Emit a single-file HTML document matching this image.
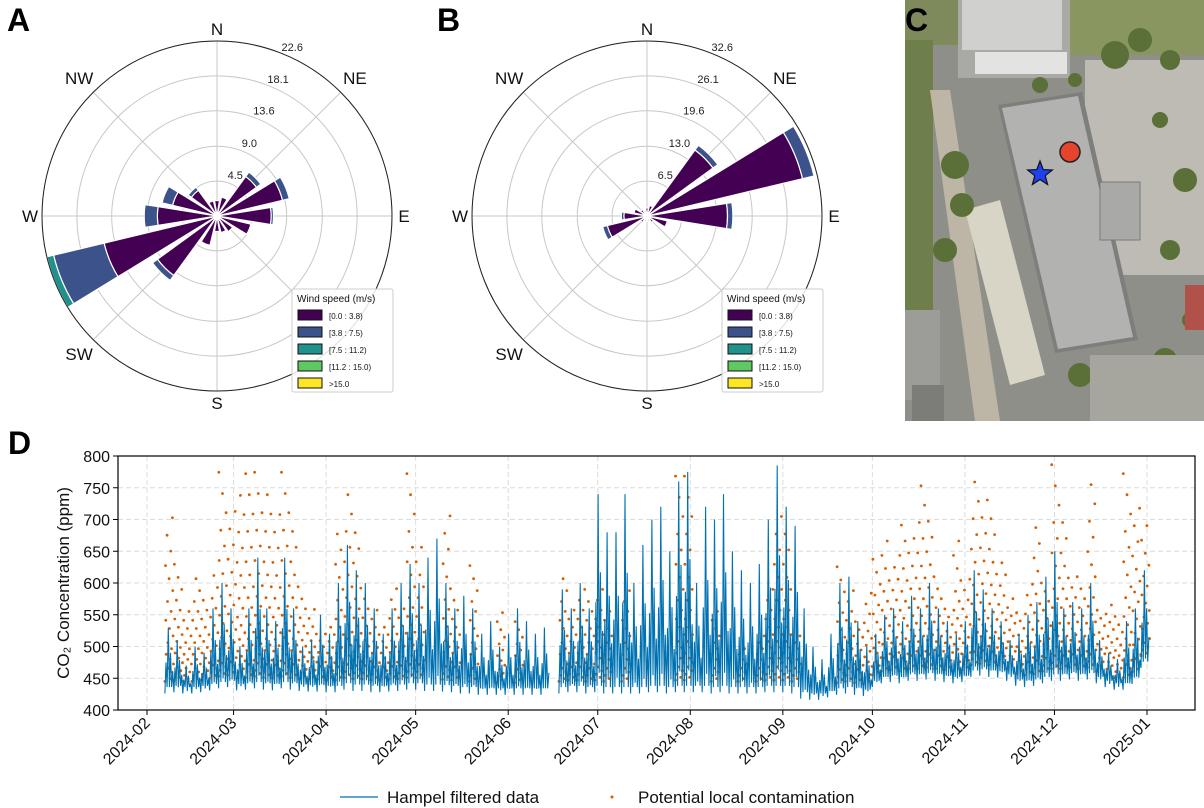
<!DOCTYPE html>
<html><head><meta charset="utf-8"><style>
body{margin:0;background:#fff;}
svg{display:block;font-family:"Liberation Sans",sans-serif;}
</style></head><body>
<svg id="fig" width="1204" height="808" viewBox="0 0 1204 808" xmlns="http://www.w3.org/2000/svg">
<g id="roseA"></g>
<g id="roseB"></g>
<g id="panelC">
  <rect x="905" y="0" width="299" height="421" fill="#8e8f88"/>
  <rect x="905" y="0" width="60" height="45" fill="#7f8a5c"/>
  <rect x="1070" y="0" width="134" height="55" fill="#8a9660"/>
  <rect x="958" y="0" width="112" height="78" fill="#a9a9a6"/>
  <rect x="962" y="0" width="100" height="50" fill="#d0d0ce"/>
  <rect x="975" y="52" width="92" height="22" fill="#e3e3e1"/>
  <rect x="905" y="40" width="28" height="270" fill="#6f7f4c"/>
  <polygon points="930,90 950,90 1000,421 975,421" fill="#bdb6a6"/>
  <rect x="1085" y="60" width="119" height="215" fill="#bdbbb3"/>
  <polygon points="965,210 1000,200 1045,375 1010,385" fill="#d8d4c6"/>
  <polygon points="998,105 1082,92 1138,340 1055,353" fill="#7e7f7d"/>
  <polygon points="1002,108 1078,96 1133,337 1058,349" fill="#b2b2b0"/>
  <rect x="1100" y="182" width="40" height="58" fill="#a9a9a7" stroke="#7a7a78"/>
  <g fill="#5a7038">
    <circle cx="955" cy="165" r="14"/><circle cx="962" cy="205" r="12"/><circle cx="945" cy="250" r="12"/>
    <circle cx="1115" cy="55" r="14"/><circle cx="1140" cy="40" r="12"/><circle cx="1170" cy="60" r="10"/>
    <circle cx="1160" cy="120" r="8"/><circle cx="1185" cy="180" r="12"/><circle cx="1170" cy="250" r="10"/>
    <circle cx="1080" cy="375" r="12"/><circle cx="1120" cy="395" r="14"/><circle cx="1165" cy="360" r="12"/>
    <circle cx="1040" cy="85" r="8"/><circle cx="1075" cy="80" r="7"/><circle cx="1190" cy="320" r="8"/>
  </g>
  <rect x="1185" y="285" width="19" height="45" fill="#b0524a"/>
  <rect x="905" y="310" width="35" height="90" fill="#9c9c98"/>
  <rect x="912" y="385" width="32" height="36" fill="#7c7c78"/>
  <rect x="1090" y="355" width="114" height="66" fill="#a6a59e"/>
  <circle cx="1070" cy="152" r="10" fill="#e8432c" stroke="#222" stroke-width="1.5"/>
  <polygon id="star" fill="#1f3ff0" stroke="#111" stroke-width="1.2"/>
</g>
<g id="panelD"></g>
<g font-weight="bold" font-size="32" fill="#000">
  <text x="7" y="31">A</text>
  <text x="437" y="31">B</text>
  <text x="905" y="31">C</text>
  <text x="8" y="454">D</text>
</g>
</svg>
<script>
// ---- wind rose data (16 directions, N clockwise) ----
const dirLabels = ["N","NE","E","SE","S","SW","W","NW"];
const speedBins = ["[0.0 : 3.8)","[3.8 : 7.5)","[7.5 : 11.2)","[11.2 : 15.0)",">15.0"];
const roseA_low = [2,2.5,6.3,8.7,7.0,4.5,2.5,2.2,2,3.9,9.5,15,7.7,5.9,4.1,2];
const roseA_mid = [0,0,0.7,0.9,0.3,0,0,0,0,0,0.8,6.7,1.7,1.4,0.5,0];
const roseA_high = [0,0,0,0,0,0,0,0,0,0,0,0.9,0,0,0,0];
const roseA_ticks = ["4.5","9.0","13.6","18.1","22.6"];
const roseB_low = [1.5,2,15.2,29.8,15,3.9,1.5,1,1,1,1.5,7.6,4.3,2.5,1.5,1];
const roseB_mid = [0,0,1.1,2.2,1.0,0,0,0,0,0,0,0.9,0.5,0,0,0];
const roseB_high = [0,0,0,0,0,0,0,0,0,0,0,0,0,0,0,0];
const roseB_ticks = ["6.5","13.0","19.6","26.1","32.6"];
const colors = ["#440154","#3b528b","#21918c","#5ec962","#fde725"];

// ---- CO2 time series data: 3-day bins starting 2024-02-07 ----
const binDays = 3, firstDay = 6;
const hampelPeak = [530,510,470,500,490,560,600,560,500,560,640,560,540,640,560,500,510,550,520,600,660,620,600,560,520,560,600,630,600,640,670,600,560,580,560,520,540,500,520,560,540,520,530,null,590,560,600,560,740,680,680,740,600,660,700,720,650,760,775,600,720,700,740,650,620,600,630,700,785,720,690,560,500,480,520,600,610,540,500,520,550,560,540,580,560,600,560,540,520,540,620,590,560,540,510,520,550,570,610,650,560,570,560,600,510,490,480,540,560,620];
const hampelBase = [430,432,430,430,432,435,438,440,435,436,438,436,435,438,436,434,433,433,432,432,436,434,434,432,432,433,434,436,436,434,434,433,432,430,430,428,428,428,428,428,428,428,428,null,430,432,432,430,432,430,430,430,430,430,432,432,430,432,432,432,432,430,432,430,430,430,430,432,432,432,430,422,420,420,424,428,430,428,426,440,446,448,446,450,450,452,450,448,446,448,456,458,456,455,450,442,440,442,446,450,450,452,450,452,446,440,436,436,445,470];
const orangeMax = [720,640,560,620,580,620,790,720,770,800,795,740,720,800,700,580,560,520,540,700,760,680,580,560,540,600,560,790,680,0,0,720,580,0,640,0,0,560,0,540,0,0,0,0,620,560,600,580,600,560,0,600,0,0,0,0,0,780,800,0,0,560,0,0,500,0,520,600,720,700,520,0,0,0,0,640,600,540,600,660,690,640,700,680,780,700,600,560,690,620,790,760,720,640,590,560,600,700,600,800,720,620,600,770,560,580,560,790,720,700];
const yTicks = [400,450,500,550,600,650,700,750,800];
const xTickLabels = ["2024-02","2024-03","2024-04","2024-05","2024-06","2024-07","2024-08","2024-09","2024-10","2024-11","2024-12","2025-01"];
const xTickDays = [0,29,60,90,121,151,182,213,243,274,304,335];

const NS="http://www.w3.org/2000/svg";
function mk(tag, attrs, parent){const e=document.createElementNS(NS,tag);for(const k in attrs)e.setAttribute(k,attrs[k]);parent.appendChild(e);return e;}

function drawRose(g, cx, cy, low, mid, high, ticks){
  const R=175, vmax=parseFloat(ticks[ticks.length-1]);
  const rs=v=>v/vmax*R;
  const pt=(r,a)=>[cx+r*Math.sin(a*Math.PI/180), cy-r*Math.cos(a*Math.PI/180)];
  ticks.forEach(t=>{const c=mk('circle',{cx:cx,cy:cy,r:rs(parseFloat(t)),fill:'none',stroke:'#c8c8c8','stroke-width':1},g);
    
    });
  for(let i=0;i<8;i++){const p=pt(R,i*45);const l=mk('line',{x1:cx,y1:cy,x2:p[0],y2:p[1],stroke:'#c8c8c8','stroke-width':1},g);
    
    }
  const series=[low,mid,high];
  for(let d=0;d<16;d++){
    let r0=0; const a=d*22.5;
    series.forEach((s,si)=>{
      const v=s[d]; if(!v) return;
      const r1=r0+v;
      const a0=a-9,a1=a+9;
      const p1=pt(rs(r0),a0),p2=pt(rs(r1),a0),p3=pt(rs(r1),a1),p4=pt(rs(r0),a1);
      const path=mk('path',{d:`M${p1} L${p2} A${rs(r1)} ${rs(r1)} 0 0 1 ${p3} L${p4} A${rs(r0)} ${rs(r0)} 0 0 0 ${p1}Z`,fill:colors[si],stroke:'#fff','stroke-width':1.2},g);
      
      
      r0=r1;
    });
  }
  mk('circle',{cx:cx,cy:cy,r:R,fill:'none',stroke:'#222','stroke-width':1},g);
  ticks.forEach(t=>{const p=pt(rs(parseFloat(t))+10,24);const tx=mk('text',{x:p[0],y:p[1]+4,'font-size':11,'text-anchor':'middle',fill:'#222'},g);tx.textContent=t;
    
    });
  dirLabels.forEach((lab,i)=>{const p=pt(R+(i%2?20:12),i*45);const tx=mk('text',{x:p[0],y:p[1]+6,'font-size':17,'text-anchor':'middle',fill:lab==='SE'?'#bbb':'#111'},g);tx.textContent=lab;
    
    });
  const lx=cx+75, ly=cy+73;
  const lg=mk('g',{},g);
  
  
  mk('rect',{x:lx,y:ly,width:101,height:103,fill:'#fff','fill-opacity':0.85,stroke:'#ccc',rx:2},lg);
  const tt=mk('text',{x:lx+5,y:ly+13,'font-size':10,fill:'#111'},lg);tt.textContent='Wind speed (m/s)';
  speedBins.forEach((b,i)=>{
    const yy=ly+21+i*17;
    mk('rect',{x:lx+6,y:yy,width:24,height:10,fill:colors[i],stroke:'#111','stroke-width':1},lg);
    const t=mk('text',{x:lx+37,y:yy+9,'font-size':8,fill:'#111'},lg);t.textContent=b;
    
    
  });
}
drawRose(document.getElementById('roseA'),217,216,roseA_low,roseA_mid,roseA_high,roseA_ticks);
drawRose(document.getElementById('roseB'),647,216,roseB_low,roseB_mid,roseB_high,roseB_ticks);

(function(){const cx=1040,cy=174,ro=13,ri=5.5;let pts=[];for(let i=0;i<10;i++){const r=i%2?ri:ro;const a=-Math.PI/2+i*Math.PI/5;pts.push((cx+r*Math.cos(a)).toFixed(1)+','+(cy+r*Math.sin(a)).toFixed(1));}document.getElementById('star').setAttribute('points',pts.join(' '));})();

(function(){
  const g=document.getElementById('panelD');
  const X0=118,X1=1195,Y0=456,Y1=710;
  const xd=d=>147+d*(1000/335);
  const yv=v=>Y1-(v-400)*(Y1-Y0)/400;
  yTicks.forEach(v=>{
    const l=mk('line',{x1:X0,x2:X1,y1:yv(v),y2:yv(v),stroke:'#dcdcdc','stroke-dasharray':'5,3'},g);
    
    
    mk('line',{x1:X0-5,x2:X0,y1:yv(v),y2:yv(v),stroke:'#000'},g);
    const t=mk('text',{x:X0-8,y:yv(v)+6,'font-size':16,'text-anchor':'end',fill:'#111'},g);t.textContent=v;
    
    
  });
  xTickDays.forEach((d,i)=>{
    const x=xd(d);
    const l=mk('line',{x1:x,x2:x,y1:Y0,y2:Y1,stroke:'#dcdcdc','stroke-dasharray':'5,3'},g);
    
    
    mk('line',{x1:x,x2:x,y1:Y1,y2:Y1+5,stroke:'#000'},g);
    const t=mk('text',{x:x+4,y:Y1+14,'font-size':16,'text-anchor':'end',transform:`rotate(-45 ${x+4} ${Y1+14})`,fill:'#111'},g);t.textContent=xTickLabels[i];
    
    
  });
  // orange points (drawn first, line over)
  orangeMax.forEach((m,k)=>{
    if(!m) return;
    const b=hampelBase[k]===null?430:hampelBase[k];
    const xs=xd(firstDay+k*binDays);
    const w=xd(firstDay+(k+1)*binDays)-xs;
    let v=b+15, j=0;
    while(v<=m){
      const c=mk('circle',{cx:(xs+((j*5.3)%w)).toFixed(1),cy:yv(v).toFixed(1),r:1.4,fill:'#d55e00'},g);
      
      
      j++; v+= 3+ (v-b)*0.1;
    }
  });
  let d='', started=false;
  const fr=[0,0.45,0,1,0.1,0.6,0,0.3];
  hampelPeak.forEach((p,k)=>{
    if(p===null){started=false;return;}
    const b=hampelBase[k];
    const xs=xd(firstDay+k*binDays);
    const w=xd(firstDay+(k+1)*binDays)-xs;
    fr.forEach((f,j)=>{
      const x=xs+w*j/fr.length;
      const v=b+(p-b)*f+(j%2?0:(j%4?6:-4));
      d+=(started?'L':'M')+x.toFixed(1)+','+yv(v).toFixed(1);
      started=true;
    });
  });
  const line=mk('path',{d:d,fill:'none',stroke:'#0072b2','stroke-width':1.1},g);
  
  
  mk('rect',{x:X0,y:Y0,width:X1-X0,height:Y1-Y0,fill:'none',stroke:'#000','stroke-width':1.2},g);
  const yl=mk('text',{x:69,y:583,'font-size':17,'text-anchor':'middle',transform:'rotate(-90 69 583)',fill:'#111'},g);yl.textContent='CO₂ Concentration (ppm)';
  
  
  const lg=mk('g',{},g);
  
  
  mk('line',{x1:340,x2:378,y1:797,y2:797,stroke:'#0072b2','stroke-width':1.2},lg);
  let t=mk('text',{x:387,y:803,'font-size':17,fill:'#111'},lg);t.textContent='Hampel filtered data';
  
  
  mk('circle',{cx:612,cy:797,r:1.5,fill:'#d55e00'},lg);
  t=mk('text',{x:638,y:803,'font-size':17,fill:'#111'},lg);t.textContent='Potential local contamination';
  
  
})();
</script>
</body></html>
